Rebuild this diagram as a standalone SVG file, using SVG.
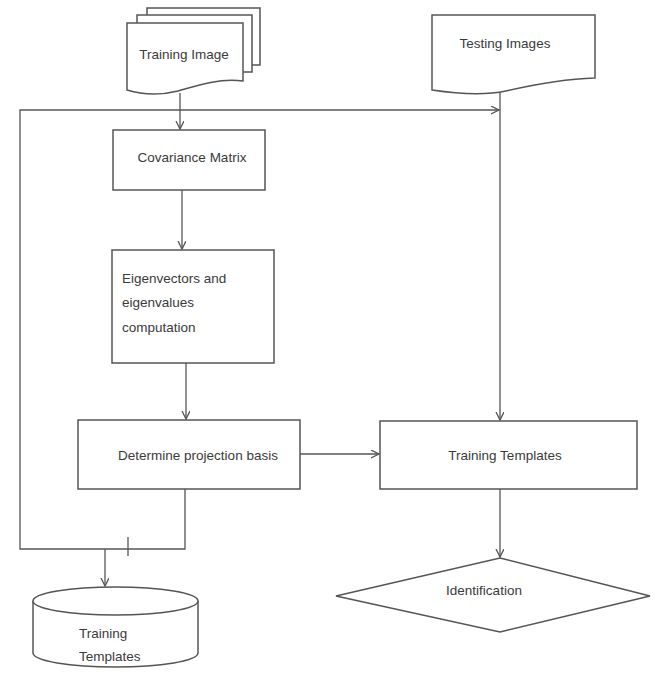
<svg xmlns="http://www.w3.org/2000/svg" width="656" height="681" viewBox="0 0 656 681">
<defs>
<style>
.s{fill:#fff;stroke:#555;stroke-width:1.5}
.b{fill:none;stroke:#555;stroke-width:1.5}
.c{fill:none;stroke:#555;stroke-width:1.3}
text{font-family:"Liberation Sans Narrow","Liberation Sans",Arial,sans-serif;font-size:13.5px;fill:#3a3a3a}
.m{text-anchor:middle}
</style>
<marker id="a" markerWidth="10" markerHeight="10" refX="8" refY="4" orient="auto" markerUnits="userSpaceOnUse">
<path d="M0,0 L8,4 L0,8" fill="none" stroke="#555" stroke-width="1.3"/>
</marker>
</defs>
<rect width="656" height="681" fill="#fff"/>
<g id="connectors">
<path class="c" d="M180,93 V129" marker-end="url(#a)"/>
<path class="c" d="M185,489 V549 H20 V110 H499" marker-end="url(#a)"/>
<path class="c" d="M500,90 V420" marker-end="url(#a)"/>
<path class="c" d="M128,537 V556"/>
<path class="c" d="M105,549 V586" marker-end="url(#a)"/>
<path class="c" d="M182,190 V249" marker-end="url(#a)"/>
<path class="c" d="M186,363 V419" marker-end="url(#a)"/>
<path class="c" d="M300,454 H379" marker-end="url(#a)"/>
<path class="c" d="M500,489 V557" marker-end="url(#a)"/>
</g>
<g id="training-image">
<path class="b" d="M147,15 V8 H260 V65 H252"/>
<path class="b" d="M137,23 V15 H252 V72 H243"/>
<path class="s" d="M127,23 H243 V81 C220,78 198,85 178,91 C158,96 140,94 127,90 Z"/>
<text class="m" x="184" y="59">Training Image</text>
</g>
<g id="testing-images">
<path class="s" d="M432,15 H595 V78 C565,79 532,85 506,91 C482,96 452,93 432,90 Z"/>
<text class="m" x="505" y="48">Testing Images</text>
</g>
<g id="covariance">
<rect class="s" x="113" y="130" width="152" height="60"/>
<text class="m" x="192" y="162">Covariance Matrix</text>
</g>
<g id="eigen">
<rect class="s" x="112" y="250" width="162" height="113"/>
<text x="122" y="283">Eigenvectors and</text>
<text x="122" y="307">eigenvalues</text>
<text x="122" y="332">computation</text>
</g>
<g id="projection">
<rect class="s" x="78" y="420" width="222" height="69"/>
<text class="m" x="198" y="460">Determine projection basis</text>
</g>
<g id="training-templates-box">
<rect class="s" x="380" y="421" width="257" height="68"/>
<text class="m" x="505" y="460">Training Templates</text>
</g>
<g id="identification">
<polygon class="s" points="500,558 650,596 500,632 336,596"/>
<text class="m" x="484" y="595">Identification</text>
</g>
<g id="training-templates-db">
<path class="s" d="M33,601 V653 A82.5,14 0 0 0 198,653 V601"/>
<ellipse class="s" cx="115.5" cy="601" rx="82.5" ry="14"/>
<text x="79" y="638">Training</text>
<text x="79" y="661">Templates</text>
</g>
</svg>
